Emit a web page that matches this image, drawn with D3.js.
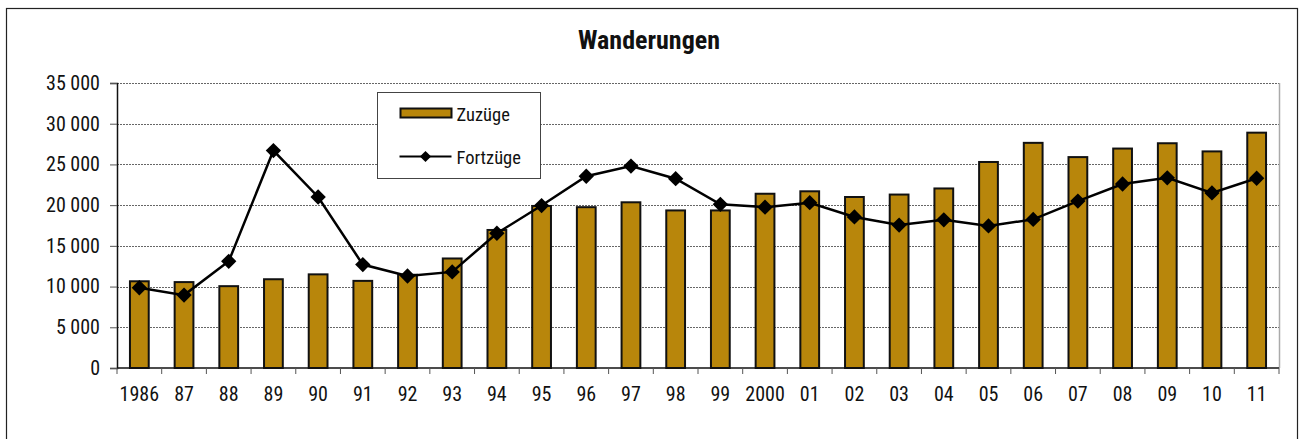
<!DOCTYPE html>
<html>
<head>
<meta charset="utf-8">
<script src="https://cdn.jsdelivr.net/npm/d3@7"></script>
<style>
  body { margin: 0; background: #fff; }
  svg { display: block; }
  text { font-family: "Liberation Sans Narrow", "Arial Narrow", "Roboto Condensed", sans-serif; fill: #111; }
</style>
</head>
<body>
<script>
// Wanderungen: Zuzüge (bars) and Fortzüge (line)
var years = ['1986', '87', '88', '89', '90', '91', '92', '93', '94', '95', '96', '97', '98', '99',
	'2000', '01', '02', '03', '04', '05', '06', '07', '08', '09', '10', '11'];
var zuzuege = [10650, 10550, 10050, 10900, 11500, 10700, 11450, 13450, 16950, 19900, 19750, 20350, 19350, 19350,
	21400, 21700, 21000, 21300, 22050, 25300, 27650, 25900, 26950, 27600, 26600, 28900];
var fortzuege = [9850, 8950, 13100, 26700, 21000, 12700, 11300, 11800, 16550, 19950, 23550, 24800, 23250, 20100,
	19750, 20300, 18550, 17550, 18200, 17450, 18250, 20500, 22600, 23350, 21500, 23300];
var yTicks = [0, 5000, 10000, 15000, 20000, 25000, 30000, 35000];

var W = 1303, H = 439;
var margin = { top: 83, right: 24, bottom: 71, left: 117 },
	width = W - margin.left - margin.right,
	height = H - margin.top - margin.bottom;

var svg = d3.select('body').append('svg')
	.attr('width', W)
	.attr('height', H);

// outer frame
svg.append('rect')
	.attr('x', 6.5).attr('y', 8.5)
	.attr('width', 1291).attr('height', 440)
	.attr('fill', 'none').attr('stroke', '#222').attr('stroke-width', 1.2);

svg.append('text')
	.attr('x', 649).attr('y', 49)
	.attr('text-anchor', 'middle')
	.style('font-size', '26px').style('font-weight', 'bold')
	.text('Wanderungen');

var g = svg.append('g').attr('transform', 'translate(' + margin.left + ',' + margin.top + ')');

var x = d3.scaleBand().domain(years).range([0, width]).paddingInner(0.58).paddingOuter(0.29);
var xb = d3.scaleBand().domain(years).range([0, width]);
var y = d3.scaleLinear().domain([0, 35000]).range([height, 0]);

// gridlines
g.selectAll('.grid').data(yTicks.slice(1)).enter().append('line')
	.attr('x1', 0).attr('x2', width)
	.attr('y1', function(d) { return Math.round(y(d)) + 0.5; })
	.attr('y2', function(d) { return Math.round(y(d)) + 0.5; })
	.attr('stroke', '#666').attr('stroke-width', 1).attr('stroke-dasharray', '2,1');

// right plot edge
g.append('line').attr('x1', width + 0.5).attr('x2', width + 0.5).attr('y1', 0).attr('y2', height)
	.attr('stroke', '#aaa').attr('stroke-width', 1.5);

// y axis
var yAxis = g.append('g').call(d3.axisLeft(y).tickValues(yTicks).tickSize(7).tickPadding(10)
	.tickFormat(function(d) { return d3.format(',')(d).replace(',', ' '); }));
yAxis.select('.domain').attr('stroke', '#111').attr('stroke-width', 1.5);
yAxis.selectAll('.tick line').attr('stroke', '#555');
yAxis.selectAll('text').style('font-size', '20px').attr('fill', '#111');

// bars
g.selectAll('.bar').data(zuzuege).enter().append('rect')
	.attr('x', function(d, i) { return x(years[i]); })
	.attr('y', function(d) { return y(d); })
	.attr('width', x.bandwidth())
	.attr('height', function(d) { return height - y(d); })
	.attr('fill', '#B8860B').attr('stroke', '#111').attr('stroke-width', 2);

// x axis with ticks at category boundaries
var xAxis = g.append('g').attr('transform', 'translate(0,' + height + ')');
xAxis.append('line').attr('x1', 0).attr('x2', width).attr('y1', 0).attr('y2', 0)
	.attr('stroke', '#111').attr('stroke-width', 1.5);
xAxis.selectAll('.xt').data(years.concat(['end'])).enter().append('line')
	.attr('x1', function(d, i) { return i < years.length ? xb(d) : width; })
	.attr('x2', function(d, i) { return i < years.length ? xb(d) : width; })
	.attr('y1', 0).attr('y2', 6)
	.attr('stroke', '#555');
xAxis.selectAll('.xl').data(years).enter().append('text')
	.attr('x', function(d) { return xb(d) + xb.bandwidth() / 2; })
	.attr('y', 33)
	.attr('text-anchor', 'middle')
	.style('font-size', '20px')
	.text(function(d) { return d; });

// line
var line = d3.line()
	.x(function(d, i) { return xb(years[i]) + xb.bandwidth() / 2; })
	.y(function(d) { return y(d); });
g.append('path').datum(fortzuege).attr('d', line)
	.attr('fill', 'none').attr('stroke', '#000').attr('stroke-width', 2.5);
var diamond = d3.symbol().type(d3.symbolDiamond2).size(150);
g.selectAll('.pt').data(fortzuege).enter().append('path')
	.attr('d', diamond)
	.attr('transform', function(d, i) {
		return 'translate(' + (xb(years[i]) + xb.bandwidth() / 2) + ',' + y(d) + ')';
	})
	.attr('fill', '#000');

// legend
var lg = svg.append('g').attr('transform', 'translate(377.5,92.5)');
lg.append('rect').attr('width', 163).attr('height', 86)
	.attr('fill', '#fff').attr('stroke', '#444').attr('stroke-width', 1);
lg.append('rect').attr('x', 23).attr('y', 16).attr('width', 51).attr('height', 9)
	.attr('fill', '#B8860B').attr('stroke', '#111').attr('stroke-width', 2);
lg.append('text').attr('x', 79).attr('y', 28).style('font-size', '18.5px').text('Zuzüge');
lg.append('line').attr('x1', 22).attr('x2', 74).attr('y1', 64).attr('y2', 64)
	.attr('stroke', '#000').attr('stroke-width', 2);
lg.append('path').attr('d', d3.symbol().type(d3.symbolDiamond2).size(80))
	.attr('transform', 'translate(48,64)').attr('fill', '#000');
lg.append('text').attr('x', 79).attr('y', 71).style('font-size', '18.5px').text('Fortzüge');
</script>
</body>
</html>
